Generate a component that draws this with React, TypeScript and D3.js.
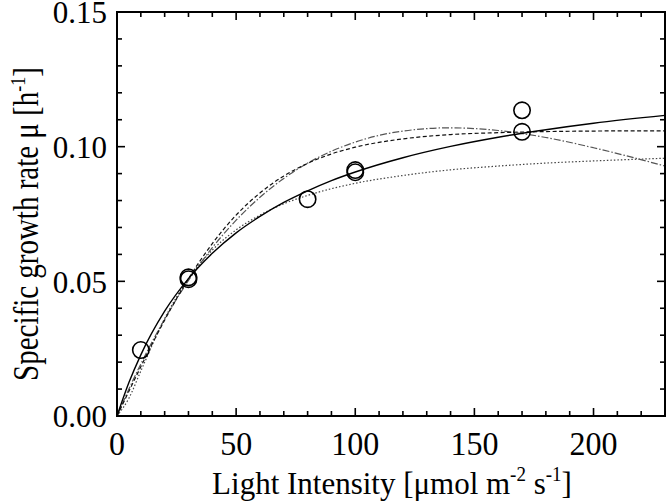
import { useEffect, useRef } from 'react';
import * as d3 from 'd3';

// measured points (light intensity, growth rate)
const pointI = [10, 30, 30, 80, 100, 100, 170, 170];
const pointMu = [0.0245, 0.0508, 0.0515, 0.0805, 0.0905, 0.0913, 0.1135, 0.1055];

// fitted curves
const curveI = [0, 5, 10, 20, 30, 40, 50, 60, 70, 80, 90, 100, 120, 140, 160, 180, 200, 230];
const solidMu = [0, 0.0124, 0.0227, 0.0389, 0.051, 0.0604, 0.068, 0.0741, 0.0793, 0.0836, 0.0874, 0.0906, 0.0959, 0.1001, 0.1035, 0.1063, 0.1087, 0.1116];
const dashedMu = [0, 0.0092, 0.0183, 0.0356, 0.051, 0.064, 0.0746, 0.0828, 0.0891, 0.0938, 0.0973, 0.0998, 0.1029, 0.1045, 0.1052, 0.1056, 0.1058, 0.1059];
const dashDotMu = [0, 0.01, 0.0193, 0.036, 0.0503, 0.0625, 0.0727, 0.0812, 0.0882, 0.0939, 0.0983, 0.1017, 0.1058, 0.107, 0.106, 0.1034, 0.0996, 0.0928];
const dottedMu = [0, 0.0066, 0.0167, 0.0362, 0.051, 0.0616, 0.0691, 0.0746, 0.0788, 0.0819, 0.0844, 0.0864, 0.0893, 0.0914, 0.0928, 0.0939, 0.0947, 0.0957];

const xTickLabels = [0, 50, 100, 150, 200];
const yTickLabels = [0, 0.05, 0.1, 0.15];

const W = 667;
const H = 503;
const FONT = '"Liberation Serif", "Times New Roman", serif';

export default function App() {
  const svgRef = useRef<SVGSVGElement>(null);

  useEffect(() => {
    const svg = d3.select(svgRef.current);
    svg.selectAll('*').remove();

    const x = d3.scaleLinear().domain([0, 230]).range([117, 665]);
    const y = d3.scaleLinear().domain([0, 0.15]).range([416, 12]);

    const g = svg.append('g');

    // curves
    const line = d3.line<[number, number]>()
      .x(d => x(d[0]))
      .y(d => y(d[1]))
      .curve(d3.curveMonotoneX);

    const series = [
      { vals: dottedMu, stroke: '#444', width: 1.2, dash: '1.5,2' },
      { vals: dashDotMu, stroke: '#555', width: 1.2, dash: '7,2,1.5,2' },
      { vals: dashedMu, stroke: '#111', width: 1.2, dash: '4,2.5' },
      { vals: solidMu, stroke: '#000', width: 1.4, dash: null },
    ];
    series.forEach(s => {
      const data = curveI.map((v, i) => [v, s.vals[i]] as [number, number]);
      g.append('path')
        .attr('d', line(data))
        .attr('fill', 'none')
        .attr('stroke', s.stroke)
        .attr('stroke-width', s.width)
        .attr('stroke-dasharray', s.dash);
    });

    // points
    g.selectAll('circle.pt')
      .data(pointI.map((v, i) => [v, pointMu[i]]))
      .join('circle')
      .attr('class', 'pt')
      .attr('cx', d => x(d[0]))
      .attr('cy', d => y(d[1]))
      .attr('r', 8.2)
      .attr('fill', 'none')
      .attr('stroke', '#000')
      .attr('stroke-width', 1.6);

    // frame
    g.append('rect')
      .attr('x', x(0)).attr('y', y(0.15))
      .attr('width', x(230) - x(0)).attr('height', y(0) - y(0.15))
      .attr('fill', 'none').attr('stroke', '#000').attr('stroke-width', 2);

    // ticks, inward on all four sides
    const xMinor = x.ticks(23);
    const yMinor = y.ticks(15);
    const isMajorX = (v: number) => Math.abs(v % 50) < 1e-6;
    const isMajorY = (v: number) => Math.abs(Math.round(v * 1000) % 50) < 1e-6;
    const ticks = g.append('g').attr('stroke', '#000').attr('stroke-width', 1.6);
    xMinor.forEach(v => {
      const len = isMajorX(v) ? 8 : 5;
      ticks.append('line').attr('x1', x(v)).attr('x2', x(v)).attr('y1', y(0)).attr('y2', y(0) - len);
      ticks.append('line').attr('x1', x(v)).attr('x2', x(v)).attr('y1', y(0.15)).attr('y2', y(0.15) + len);
    });
    yMinor.forEach(v => {
      const len = isMajorY(v) ? 8 : 5;
      ticks.append('line').attr('y1', y(v)).attr('y2', y(v)).attr('x1', x(0)).attr('x2', x(0) + len);
      ticks.append('line').attr('y1', y(v)).attr('y2', y(v)).attr('x1', x(230)).attr('x2', x(230) - len);
    });

    // tick labels
    g.selectAll('text.xt')
      .data(xTickLabels)
      .join('text')
      .attr('class', 'xt')
      .attr('transform', d => `translate(${x(d)},455) scale(1,1.08)`)
      .attr('text-anchor', 'middle')
      .attr('font-family', FONT)
      .attr('font-size', 32)
      .text(d => d);

    g.selectAll('text.yt')
      .data(yTickLabels)
      .join('text')
      .attr('class', 'yt')
      .attr('transform', d => `translate(107,${y(d)}) scale(1,1.05)`)
      .attr('dy', '0.35em')
      .attr('text-anchor', 'end')
      .attr('font-family', FONT)
      .attr('font-size', 31)
      .text(d => d3.format('.2f')(d));

    // x title
    const xt = g.append('text')
      .attr('transform', 'translate(392,494) scale(1,1.05)')
      .attr('text-anchor', 'middle')
      .attr('font-family', FONT)
      .attr('font-size', 31);
    xt.append('tspan').text('Light Intensity [μmol m');
    xt.append('tspan').attr('font-size', 19).attr('dy', -12).text('-2');
    xt.append('tspan').attr('dy', 12).text(' s');
    xt.append('tspan').attr('font-size', 19).attr('dy', -12).text('-1');
    xt.append('tspan').attr('dy', 12).text(']');

    // y title
    const yt = g.append('text')
      .attr('transform', 'translate(38,224) rotate(-90) scale(1,1.2)')
      .attr('text-anchor', 'middle')
      .attr('font-family', FONT)
      .attr('font-size', 29);
    yt.append('tspan').text('Specific growth rate μ [h');
    yt.append('tspan').attr('font-size', 18).attr('dy', -11).text('-1');
    yt.append('tspan').attr('dy', 11).text(']');
  }, []);

  return (
    <svg
      ref={svgRef}
      width={W}
      height={H}
      style={{ position: 'absolute', left: 0, top: 0, background: '#fff' }}
    />
  );
}
